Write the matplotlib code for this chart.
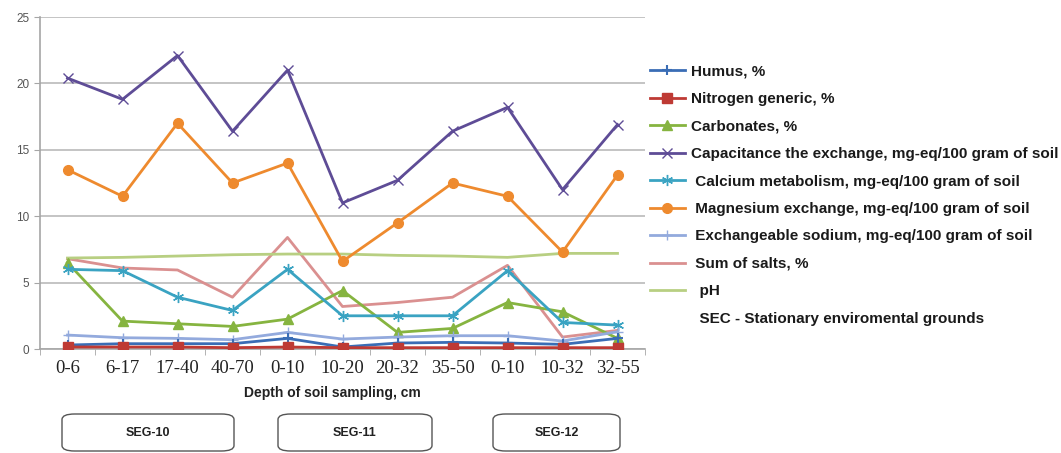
import matplotlib
matplotlib.use("Agg")
import matplotlib.pyplot as plt
from matplotlib.patches import FancyBboxPatch

# depth categories (cm) for SEG-10, SEG-11, SEG-12
depths = ["0-6", "6-17", "17-40", "40-70", "0-10", "10-20", "20-32", "35-50", "0-10", "10-32", "32-55"]

humus = [0.3, 0.4, 0.4, 0.4, 0.8, 0.15, 0.45, 0.5, 0.45, 0.35, 0.8]
nitrogen = [0.15, 0.15, 0.15, 0.1, 0.15, 0.1, 0.1, 0.1, 0.1, 0.1, 0.1]
carbonates = [6.5, 2.1, 1.9, 1.7, 2.25, 4.4, 1.25, 1.55, 3.5, 2.8, 0.8]
capacitance = [20.4, 18.8, 22.1, 16.4, 21.0, 11.0, 12.7, 16.4, 18.2, 12.0, 16.9]
calcium = [6.0, 5.9, 3.9, 2.9, 6.0, 2.5, 2.5, 2.5, 5.9, 2.0, 1.8]
magnesium = [13.5, 11.5, 17.0, 12.5, 14.0, 6.6, 9.5, 12.5, 11.5, 7.3, 13.1]
sodium = [1.05, 0.85, 0.8, 0.7, 1.25, 0.75, 0.9, 1.0, 1.0, 0.6, 1.3]
salts = [6.8, 6.1, 5.95, 3.9, 8.4, 3.2, 3.5, 3.9, 6.3, 0.9, 1.4]
ph = [6.85, 6.9, 7.0, 7.1, 7.15, 7.15, 7.05, 7.0, 6.9, 7.2, 7.2]

seg_names = ["SEG-10", "SEG-11", "SEG-12"]

plt.rcParams['font.family'] = ['Liberation Sans', 'DejaVu Sans']

fig = plt.figure(figsize=(10.61, 4.53), dpi=100)
ax = fig.add_axes([40/1061, 1-349/453, 605/1061, 332/453])

x = list(range(len(depths)))
lw = 2.0
ax.plot(x, humus, color="#3A6DB5", lw=lw, marker="+", ms=7, mew=1.5, label="Humus, %", zorder=5)
ax.plot(x, nitrogen, color="#BE3A34", lw=lw, marker="s", ms=7, label="Nitrogen generic, %", zorder=6)
ax.plot(x, carbonates, color="#86B440", lw=lw, marker="^", ms=7, label="Carbonates, %", zorder=4)
ax.plot(x, capacitance, color="#5E4C96", lw=lw, marker="x", ms=7, mew=1.0, label="Capacitance the exchange, mg-eq/100 gram of soil", zorder=4)
ax.plot(x, calcium, color="#3AA3C2", lw=lw, marker=(6, 2, 0), ms=8, mew=1.0, label=" Calcium metabolism, mg-eq/100 gram of soil", zorder=4)
ax.plot(x, magnesium, color="#EE8A2E", lw=lw, marker="o", ms=7, label=" Magnesium exchange, mg-eq/100 gram of soil", zorder=4)
ax.plot(x, sodium, color="#93AADD", lw=lw, marker="+", ms=7, mew=1.0, label=" Exchangeable sodium, mg-eq/100 gram of soil", zorder=4)
ax.plot(x, salts, color="#DA9090", lw=lw, label=" Sum of salts, %", zorder=3)
ax.plot(x, ph, color="#B8CF82", lw=lw, label="  pH", zorder=3)
ax.plot([], [], color="none", label="  SEC - Stationary enviromental grounds")

ax.set_xlim(-0.5, 10.5)
ax.set_ylim(0, 25)
ax.set_yticks([0, 5, 10, 15, 20, 25])
ax.yaxis.grid(True, color="#BFBFBF", lw=1.3)
ax.set_axisbelow(True)
for s in ["top", "right"]:
    ax.spines[s].set_visible(False)
ax.spines["left"].set_color("#A6A6A6")
ax.spines["bottom"].set_color("#A6A6A6")
ax.spines["left"].set_linewidth(1.2)
ax.spines["bottom"].set_linewidth(1.2)

ax.set_xticks(x)
ax.set_xticklabels(depths, family=["Liberation Serif", "DejaVu Serif"], fontsize=13.5, color="#222222")
ax.tick_params(axis="x", which="major", length=0, pad=8)
ax.set_xticks([i - 0.5 for i in range(len(depths) + 1)], minor=True)
ax.tick_params(axis="x", which="minor", length=4, color="#A6A6A6")
ax.tick_params(axis="y", length=4, color="#A6A6A6", labelsize=8.5, labelcolor="#555555")

fig.text(332/1061, 1-393/453, "Depth of soil sampling, cm", ha="center", va="center",
         fontsize=10, fontweight="bold", color="#222222")

leg = ax.legend(loc="upper left", bbox_to_anchor=(636/1061, 1-51/453), bbox_transform=fig.transFigure,
                frameon=False, fontsize=11, handlelength=2.3, labelspacing=0.88, handletextpad=0.4)
for t in leg.get_texts():
    t.set_fontweight("bold")
    t.set_color("#1a1a1a")

# SEG boxes below the axis
boxes = [(62, 234), (278, 432), (493, 620)]
for name, (x0, x1) in zip(seg_names, boxes):
    y0, y1 = 1-451/453, 1-414/453
    p = FancyBboxPatch((x0/1061, y0), (x1-x0)/1061, y1-y0, transform=fig.transFigure,
                       boxstyle="round,pad=0,rounding_size=0.012", fc="white", ec="#555555", lw=1.0)
    fig.patches.append(p)
    fig.text((x0+x1)/2/1061, (y0+y1)/2, name, ha="center", va="center", fontsize=9,
             fontweight="bold", color="#222222")

fig.savefig("out.png", dpi=100)
